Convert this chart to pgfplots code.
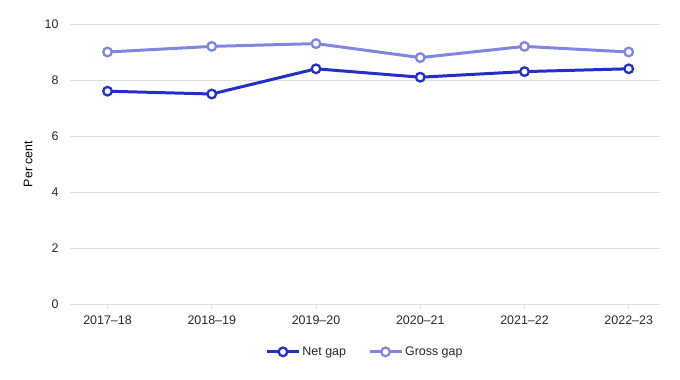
\documentclass[border=0pt]{standalone}
\usepackage{fontspec}
\setmainfont{Liberation Sans}
\usepackage{pgfplots}
\pgfplotsset{compat=1.18}
\definecolor{netc}{RGB}{36,46,200}
\definecolor{grossc}{RGB}{128,134,226}
\definecolor{gridc}{RGB}{222,222,222}
\definecolor{txt}{RGB}{40,40,40}
\begin{document}
\begin{tikzpicture}[x=1bp,y=1bp]
\path[use as bounding box] (-70bp,-76bp) rectangle (610bp,304bp);
\begin{axis}[
  scale only axis, width=590bp, height=280bp,
  at={(0,0)}, anchor=south west,
  xmin=-0.36, xmax=5.3, ymin=0, ymax=10,
  xtick={0,1,2,3,4,5},
  xticklabels={2017--18,2018--19,2019--20,2020--21,2021--22,2022--23},
  ytick={0,2,4,6,8,10},
  axis x line*=bottom, axis y line*=left,
  x axis line style={gridc, line width=1pt, -},
  y axis line style={draw=none},
  ymajorgrids, grid style={gridc, line width=0.8pt},
  tick align=outside, major tick length=5bp,
  xtick style={gridc, line width=0.8pt},
  ytick style={draw=none},
  tick label style={font=\fontsize{12.5}{14}\selectfont, text=txt},
  xticklabel style={yshift=-3bp},
  yticklabel style={xshift=-3bp},
  /pgf/number format/assume math mode=true,
  ylabel={Per cent},
  ylabel style={font=\fontsize{12.5}{14}\selectfont, text=black, at={(axis description cs:-0.071,0.5)}, anchor=center},
  legend columns=2,
  legend style={at={(0.5,-0.171)}, anchor=center, draw=none, fill=none,
    font=\fontsize{12.5}{14}\selectfont, text=txt,
    /tikz/every even column/.append style={column sep=20bp},
    /tikz/every odd column/.append style={column sep=0bp}},
  legend image code/.code={
    \draw[#1, mark=none] (-10bp,0bp) -- (22bp,0bp);
    \draw[#1, only marks] plot coordinates {(6bp,0bp)};
  },
]
\addplot[netc, line width=3pt, mark=*, mark size=4.3bp,
  mark options={fill=white, line width=2.3pt}] coordinates {
  (0,7.6) (1,7.5) (2,8.4) (3,8.1) (4,8.3) (5,8.4)};
\addlegendentry{Net gap}
\addplot[grossc, line width=3pt, mark=*, mark size=4.3bp,
  mark options={fill=white, line width=2.3pt}] coordinates {
  (0,9.0) (1,9.2) (2,9.3) (3,8.8) (4,9.2) (5,9.0)};
\addlegendentry{Gross gap}
\end{axis}
\end{tikzpicture}
\end{document}
